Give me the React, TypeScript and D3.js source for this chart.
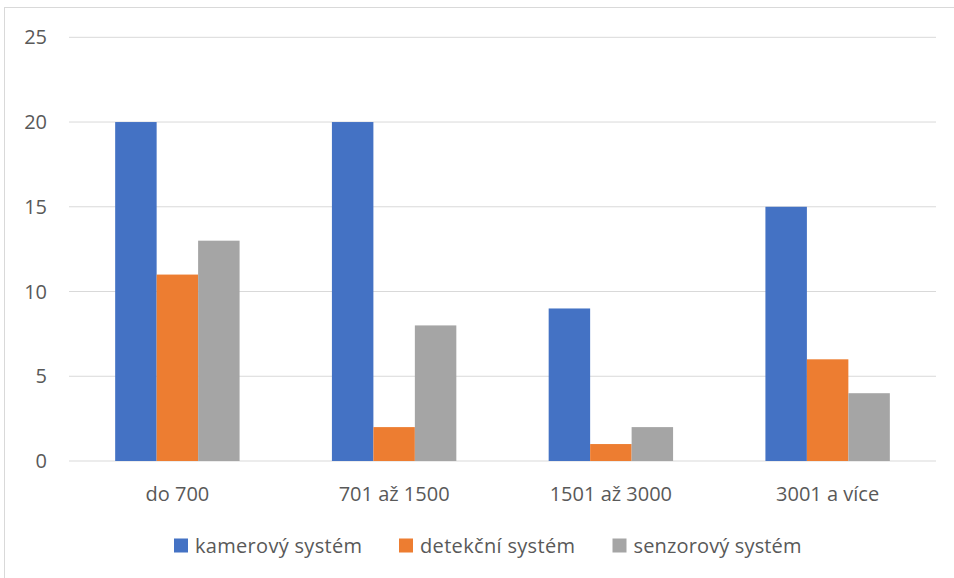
import React from "react";
import * as d3 from "d3";

const categories = ["do 700", "701 až 1500", "1501 až 3000", "3001 a více"];
const seriesNames = ["kamerový systém", "detekční systém", "senzorový systém"];
const kamerovy = [20, 20, 9, 15];
const detekcni = [11, 2, 1, 6];
const senzorovy = [13, 8, 2, 4];
const yTicks = [0, 5, 10, 15, 20, 25];
const colors = ["#4472C4", "#ED7D31", "#A5A5A5"];

const W = 954;
const H = 578;
const font = "'Open Sans', sans-serif";

export default function App() {
  const series = [kamerovy, detekcni, senzorovy];
  const x = d3.scaleBand<string>().domain(categories).range([69, 936]).paddingInner(0.426).paddingOuter(0.213);
  const inner = d3.scaleBand<number>().domain([0, 1, 2]).range([0, x.bandwidth()]);
  const y = d3.scaleLinear().domain([0, 25]).range([461, 37.3]);

  const legendX = [174, 399, 612.5];
  const legendW = [167, 155, 168];

  return (
    <svg width={W} height={H} style={{ position: "absolute", left: 0, top: 0, background: "#fff" }} fontFamily={font}>
      <rect x={4.5} y={7.5} width={W + 10} height={H + 10} fill="#fff" stroke="#D9D9D9" strokeWidth={1} />
      {yTicks.map((t) => (
        <g key={t}>
          <line x1={69} x2={936} y1={y(t)} y2={y(t)} stroke="#D9D9D9" strokeWidth={1} />
          <text x={47} y={y(t)} dy="0.35em" textAnchor="end" fontSize={20} fill="#595959">{t}</text>
        </g>
      ))}
      {categories.map((c, i) => (
        <g key={c}>
          {series.map((s, j) => (
            <rect
              key={j}
              x={(x(c) as number) + (inner(j) as number)}
              y={y(s[i])}
              width={inner.bandwidth()}
              height={y(0) - y(s[i])}
              fill={colors[j]}
            />
          ))}
          <text x={(x(c) as number) + x.bandwidth() / 2} y={494} dy="0.35em" textAnchor="middle" fontSize={20} fill="#595959">{c}</text>
        </g>
      ))}
      {seriesNames.map((n, j) => (
        <g key={n}>
          <rect x={legendX[j]} y={538.5} width={14} height={14} fill={colors[j]} />
          <text x={legendX[j] + 21} y={546} dy="0.35em" fontSize={20} fill="#595959" textLength={legendW[j]} lengthAdjust="spacing">{n}</text>
        </g>
      ))}
    </svg>
  );
}
